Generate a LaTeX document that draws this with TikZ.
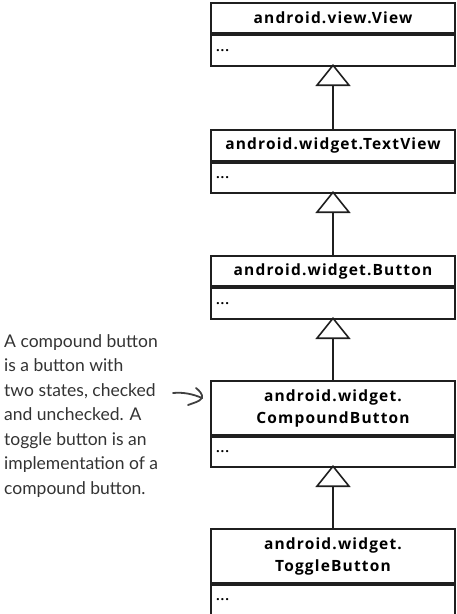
\documentclass[tikz,border=0pt]{standalone}
\usepackage{fontspec}
\setmainfont{Open Sans}
\newfontfamily\boxfont[LetterSpace=7.5]{Open Sans}
\newfontfamily\handfont{Lato}
\usetikzlibrary{arrows.meta,positioning}
\tikzset{
  hdr/.style={draw=black!88, line width=2pt, minimum width=244pt, inner sep=0pt,
    font=\boxfont\bfseries\fontsize{15.5pt}{22pt}\selectfont, align=center, anchor=north},
  bdy/.style={draw=black!88, line width=2pt, minimum width=244pt, text width=234pt, inner sep=0pt,
    font=\boxfont\bfseries\fontsize{13pt}{16pt}\selectfont, align=left, anchor=north},
  inh/.style={line width=1.6pt, draw=black!88, -{Triangle[open, length=22pt, width=35pt, line width=1.6pt, fill=white]}},
  note/.style={font=\handfont\fontsize{17.5pt}{24.5pt}\selectfont, align=left, anchor=north west, inner sep=0pt, text=black!80},
  notearrow/.style={line width=1.8pt, draw=black!75, line cap=round}
}
\begin{document}
\begin{tikzpicture}[x=1pt,y=-1pt]
\useasboundingbox (0,0) rectangle (457,614);
% View
\node[hdr, minimum height=30pt] (view) at (333,2) {android.view.View};
\node[bdy, minimum height=31pt] (viewb) at (view.south) {...};
% TextView
\node[hdr, minimum height=31pt] (tv) at (333,129) {android.widget.TextView};
\node[bdy, minimum height=30pt] (tvb) at (tv.south) {...};
% Button
\node[hdr, minimum height=30pt] (btn) at (333,255) {android.widget.Button};
\node[bdy, minimum height=31pt] (btnb) at (btn.south) {...};
% CompoundButton
\node[hdr, minimum height=54pt] (cb) at (333,380) {android.widget.\\CompoundButton};
\node[bdy, minimum height=30pt] (cbb) at (cb.south) {...};
% ToggleButton
\node[hdr, minimum height=54pt] (tb) at (333,528) {android.widget.\\ToggleButton};
\node[bdy, minimum height=30pt] (tbb) at (tb.south) {...};
% inheritance
\draw[inh] (tv.north) -- ([yshift=3pt]viewb.south);
\draw[inh] (btn.north) -- ([yshift=3pt]tvb.south);
\draw[inh] (cb.north) -- ([yshift=3pt]btnb.south);
\draw[inh] (tb.north) -- ([yshift=3pt]cbb.south);
% note
\node[note] (note) at (4,334) {A compound button\\is a button with\\two states, checked\\and unchecked. A\\toggle button is an\\implementation of a\\compound button.};
\coordinate (ns) at (173,393);
\coordinate (ne) at (202,398);
\draw[notearrow] (ns) .. controls (183,392) and (193,394) .. (ne);
\draw[notearrow] (196,388) .. controls (200,391) and (203,395) .. (ne) .. controls (199,402) and (193,403) .. (188,405);
\end{tikzpicture}
\end{document}
